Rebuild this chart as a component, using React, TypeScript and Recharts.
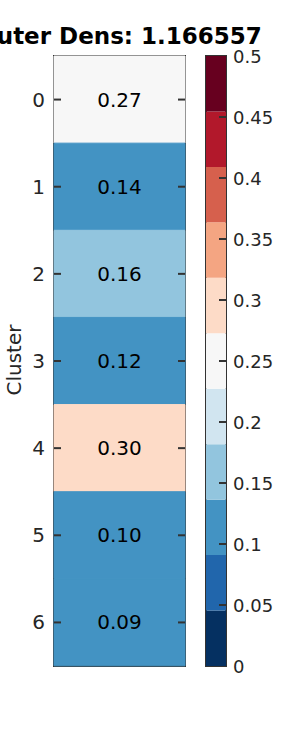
import React from "react";
import {
  BarChart,
  Bar,
  XAxis,
  YAxis,
  Cell,
  LabelList,
  ReferenceArea,
} from "recharts";

const clusters = ["0", "1", "2", "3", "4", "5", "6"];
const densities = [0.27, 0.1355, 0.16, 0.12, 0.3, 0.1, 0.094];
const palette = [
  "#053061",
  "#2166ac",
  "#4393c3",
  "#92c5de",
  "#d1e5f0",
  "#f7f7f7",
  "#fddbc7",
  "#f4a582",
  "#d6604d",
  "#b2182b",
  "#67001f",
];
const colorTicks = [0, 0.05, 0.1, 0.15, 0.2, 0.25, 0.3, 0.35, 0.4, 0.45, 0.5];
const vmax = 0.5;
const title = "Outer Dens: 1.166557";

const FONT = "'DejaVu Sans', sans-serif";
const INK = "#262626";
const EDGE = "#333333";

const step = vmax / palette.length;
const colorFor = (v: number) =>
  palette[Math.min(palette.length - 1, Math.floor(v / step))];

const rows = clusters.map((c, i) => ({ cluster: c, full: 1, density: densities[i] }));
const barRow: Record<string, number | string> = { name: "cb" };
palette.forEach((_, i) => (barRow["b" + i] = step));

export default function App() {
  return (
    <div
      style={{
        position: "absolute",
        left: 0,
        top: 0,
        width: 300,
        height: 750,
        overflow: "hidden",
        background: "#fff",
        fontFamily: FONT,
      }}
    >
      <div
        style={{
          position: "absolute",
          left: 119.5 - 200,
          top: 27,
          width: 400,
          textAlign: "center",
          fontSize: 23,
          fontWeight: "bold",
          color: "#000",
          lineHeight: "18px",
          whiteSpace: "nowrap",
        }}
      >
        {title}
      </div>

      <div style={{ position: "absolute", left: 0, top: 0 }}>
        <BarChart
          width={200}
          height={750}
          data={rows}
          layout="vertical"
          barCategoryGap={0}
          margin={{ top: 56, right: 0, bottom: 84, left: 0 }}
        >
          <XAxis
            xAxisId="bot"
            type="number"
            domain={[0, 1]}
            ticks={[0.5]}
            height={0}
            axisLine={false}
            tickLine={false}
            tickSize={0}
            tickMargin={0}
            tick={(p: any) => (
              <line x1={p.x} x2={p.x} y1={p.y - 7} y2={p.y} stroke={EDGE} strokeWidth={2} />
            )}
          />
          <XAxis
            xAxisId="top"
            orientation="top"
            type="number"
            domain={[0, 1]}
            ticks={[0.5]}
            height={0}
            axisLine={false}
            tickLine={false}
            tickSize={0}
            tickMargin={0}
            tick={(p: any) => (
              <line x1={p.x} x2={p.x} y1={p.y} y2={p.y + 7} stroke={EDGE} strokeWidth={2} />
            )}
          />
          <YAxis
            yAxisId="l"
            type="category"
            dataKey="cluster"
            width={54}
            axisLine={false}
            tickLine={false}
            tickSize={0}
            tickMargin={0}
            tick={(p: any) => (
              <g>
                <line x1={p.x} x2={p.x + 7} y1={p.y} y2={p.y} stroke={EDGE} strokeWidth={2} />
                <text
                  x={p.x - 9}
                  y={p.y}
                  textAnchor="end"
                  dominantBaseline="central"
                  fontSize={20}
                  fontFamily={FONT}
                  fill={INK}
                >
                  {p.payload.value}
                </text>
              </g>
            )}
            label={{
              content: () => (
                <text
                  x={14}
                  y={360}
                  transform="rotate(-90, 14, 360)"
                  textAnchor="middle"
                  dominantBaseline="central"
                  fontSize={20}
                  fontFamily={FONT}
                  fill={INK}
                >
                  Cluster
                </text>
              ),
            }}
          />
          <YAxis
            yAxisId="r"
            orientation="right"
            type="category"
            dataKey="cluster"
            width={15}
            axisLine={false}
            tickLine={false}
            tickSize={0}
            tickMargin={0}
            tick={(p: any) => (
              <line x1={p.x - 7} x2={p.x} y1={p.y} y2={p.y} stroke={EDGE} strokeWidth={2} />
            )}
          />
          <Bar
            dataKey="full"
            xAxisId="bot"
            yAxisId="l"
            isAnimationActive={false}
          >
            {rows.map((r) => (
              <Cell
                key={r.cluster}
                fill={colorFor(r.density)}
                stroke={colorFor(r.density)}
                strokeWidth={1}
              />
            ))}
            <LabelList
              dataKey="density"
              position="center"
              formatter={(v: any) => Number(v).toFixed(2)}
              fill="#000"
              fontSize={20}
              fontFamily={FONT}
            />
          </Bar>
          <ReferenceArea
            xAxisId="bot"
            yAxisId="l"
            x1={0}
            x2={1}
            fill="none"
            stroke={EDGE}
            strokeWidth={2}
            ifOverflow="visible"
          />
        </BarChart>
      </div>

      <div style={{ position: "absolute", left: 190, top: 0 }}>
        <BarChart
          width={110}
          height={750}
          data={[barRow]}
          barCategoryGap={0}
          margin={{ top: 56, right: 0, bottom: 84, left: 16 }}
        >
          <XAxis dataKey="name" hide />
          <YAxis
            orientation="right"
            type="number"
            domain={[0, vmax]}
            ticks={colorTicks}
            width={74}
            axisLine={false}
            tickLine={false}
            tickSize={0}
            tickMargin={0}
            interval={0}
            tick={(p: any) => (
              <g>
                {p.payload.value > 0 && p.payload.value < vmax ? (
                  <line x1={p.x - 7} x2={p.x} y1={p.y} y2={p.y} stroke={EDGE} strokeWidth={2} />
                ) : null}
                <text
                  x={p.x + 7}
                  y={p.y}
                  textAnchor="start"
                  dominantBaseline="central"
                  fontSize={18}
                  fontFamily={FONT}
                  fill={INK}
                >
                  {String(p.payload.value)}
                </text>
              </g>
            )}
          />
          {palette.map((c, i) => (
            <Bar
              key={c}
              dataKey={"b" + i}
              stackId="cb"
              fill={c}
              isAnimationActive={false}
            />
          ))}
          <ReferenceArea
            y1={0}
            y2={vmax}
            fill="none"
            stroke={EDGE}
            strokeWidth={2}
            ifOverflow="visible"
          />
        </BarChart>
      </div>
    </div>
  );
}
